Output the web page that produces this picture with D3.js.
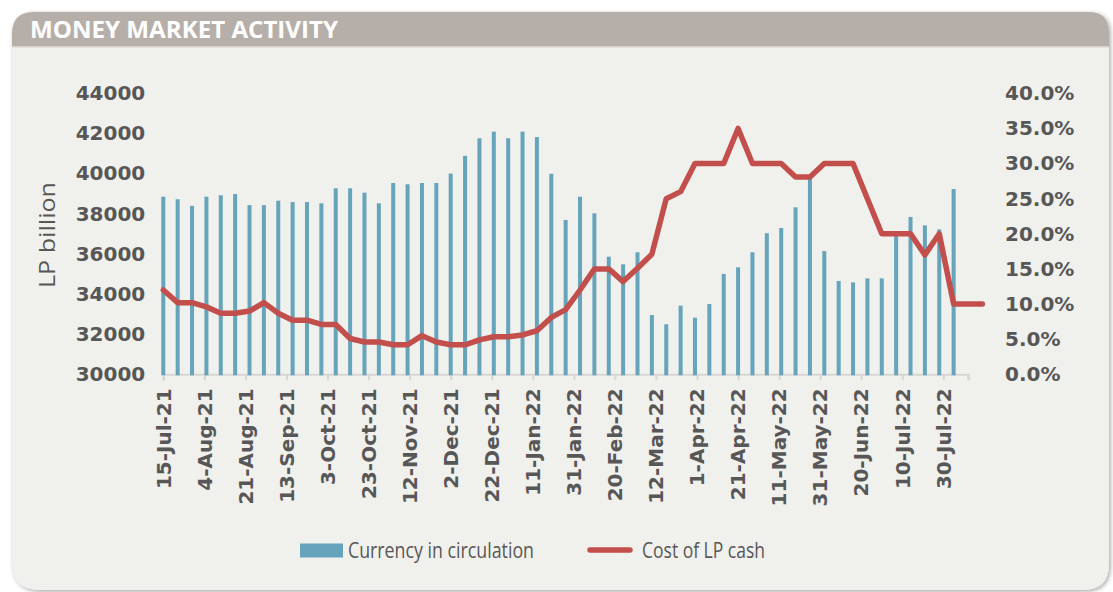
<!DOCTYPE html>
<html>
<head>
<meta charset="utf-8">
<script src="https://cdn.jsdelivr.net/npm/d3@7/dist/d3.min.js"></script>
<style>
  html, body { margin: 0; padding: 0; background: #ffffff; }
  svg { display: block; }
</style>
</head>
<body>
<div id="chart"></div>
<script>
"use strict";

// data
var title = "MONEY MARKET ACTIVITY";
var leftAxisTitle = "LP billion";
var seriesNames = ["Currency in circulation", "Cost of LP cash"];

// one x label every 20 days, data is weekly
var dateLabels = ["15-Jul-21", "4-Aug-21", "21-Aug-21", "13-Sep-21", "3-Oct-21",
  "23-Oct-21", "12-Nov-21", "2-Dec-21", "22-Dec-21", "11-Jan-22", "31-Jan-22",
  "20-Feb-22", "12-Mar-22", "1-Apr-22", "21-Apr-22", "11-May-22", "31-May-22",
  "20-Jun-22", "10-Jul-22", "30-Jul-22"];
var labelStepDays = 20;
var dataStepDays = 7;
var axisEndDays = 392;

var leftTicks = [30000, 32000, 34000, 36000, 38000, 40000, 42000, 44000];
var rightTicks = [0, 0.05, 0.10, 0.15, 0.20, 0.25, 0.30, 0.35, 0.40];

// Currency in circulation, LP billion
var currency = [38850, 38720, 38390, 38850, 38920, 38980, 38430, 38430, 38650, 38580,
  38580, 38520, 39270, 39270, 39050, 38520, 39530, 39470, 39530, 39530,
  40000, 40880, 41760, 42090, 41760, 42090, 41820, 39990, 37690, 38850,
  38020, 35860, 35480, 36080, 32950, 32490, 33420, 32820, 33500, 35000,
  35330, 36080, 37030, 37290, 38320, 39800, 36140, 34650, 34580, 34780,
  34780, 37000, 37840, 37420, 37220, 39230];

// Cost of LP cash, percent
var cost = [12.0, 10.2, 10.2, 9.6, 8.7, 8.7, 9.0, 10.2, 8.7, 7.7,
  7.7, 7.1, 7.1, 5.1, 4.6, 4.6, 4.2, 4.2, 5.5, 4.6,
  4.2, 4.2, 4.9, 5.35, 5.35, 5.6, 6.2, 8.1, 9.2, 12.0,
  15.0, 15.0, 13.2, 15.1, 17.1, 25.0, 26.0, 30.0, 30.0, 30.0,
  35.0, 30.0, 30.0, 30.0, 28.1, 28.1, 30.0, 30.0, 30.0, 25.0,
  20.0, 20.0, 20.0, 17.0, 20.0, 10.0, 10.0, 10.0];

// layout
var W = 1113, H = 592;
var plot = { left: 163.3, right: 968, top: 93.3, bottom: 374.3 };
var barColor = "#66a4bb";
var lineColor = "#c24f4c";
var textColor = "#575757";
var tickFont = "'DejaVu Sans', sans-serif";

var svg = d3.select("#chart")
            .append("svg")
            .attr("width", W)
            .attr("height", H);

var defs = svg.append("defs");
var shadow = defs.append("filter")
                 .attr("id", "shadow")
                 .attr("x", "-5%").attr("y", "-5%")
                 .attr("width", "110%").attr("height", "110%");
shadow.append("feDropShadow")
      .attr("dx", 1.5).attr("dy", 1.5)
      .attr("stdDeviation", 2)
      .attr("flood-color", "#000")
      .attr("flood-opacity", 0.35);

// panel with rounded corners
var px0 = 12, py0 = 12, px1 = 1109, py1 = 590;
var rTL = 22, rTR = 20, rBL = 28, rBR = 26;
var panelPath = "M" + (px0 + rTL) + "," + py0 +
  " L" + (px1 - rTR) + "," + py0 +
  " Q" + px1 + "," + py0 + " " + px1 + "," + (py0 + rTR) +
  " L" + px1 + "," + (py1 - rBR) +
  " Q" + px1 + "," + py1 + " " + (px1 - rBR) + "," + py1 +
  " L" + (px0 + rBL) + "," + py1 +
  " Q" + px0 + "," + py1 + " " + px0 + "," + (py1 - rBL) +
  " L" + px0 + "," + (py0 + rTL) +
  " Q" + px0 + "," + py0 + " " + (px0 + rTL) + "," + py0 + " Z";

defs.append("clipPath").attr("id", "panelClip")
    .append("path").attr("d", panelPath);

svg.append("path")
   .attr("d", panelPath)
   .attr("fill", "#f0f0ec")
   .attr("filter", "url(#shadow)");

var header = svg.append("g").attr("clip-path", "url(#panelClip)");
header.append("rect")
      .attr("x", px0).attr("y", py0)
      .attr("width", px1 - px0).attr("height", 34.5)
      .attr("fill", "#b6afa9");
header.append("rect")
      .attr("x", px0).attr("y", 46.5)
      .attr("width", px1 - px0).attr("height", 1.2)
      .attr("fill", "#dcd8d3");

svg.append("text")
   .attr("x", 30)
   .attr("y", 37.5)
   .attr("fill", "#ffffff")
   .style("font-family", "'Open Sans', sans-serif")
   .style("font-weight", "bold")
   .style("font-size", "23px")
   .attr("textLength", 308)
   .attr("lengthAdjust", "spacingAndGlyphs")
   .text(title);

// scales
var x = d3.scaleLinear()
          .domain([0, axisEndDays])
          .range([plot.left, plot.right]);

var yLeft = d3.scaleLinear()
              .domain([leftTicks[0], leftTicks[leftTicks.length - 1]])
              .range([plot.bottom, plot.top]);

var yRight = d3.scaleLinear()
               .domain([rightTicks[0], rightTicks[rightTicks.length - 1]])
               .range([plot.bottom, plot.top]);

// left axis
var leftAxis = d3.axisLeft(yLeft)
                 .tickValues(leftTicks)
                 .tickFormat(d3.format("d"))
                 .tickSize(0)
                 .tickPadding(18);
var gl = svg.append("g")
            .attr("transform", "translate(" + plot.left + ",0)")
            .call(leftAxis);
gl.select(".domain").remove();
gl.selectAll("text")
  .attr("fill", textColor)
  .style("font-family", tickFont)
  .style("font-weight", "bold")
  .style("font-size", "20px");

// right axis
var rightAxis = d3.axisRight(yRight)
                  .tickValues(rightTicks)
                  .tickFormat(d3.format(".1%"))
                  .tickSize(0)
                  .tickPadding(37);
var gr = svg.append("g")
            .attr("transform", "translate(" + plot.right + ",0)")
            .call(rightAxis);
gr.select(".domain").remove();
gr.selectAll("text")
  .attr("fill", textColor)
  .style("font-family", tickFont)
  .style("font-weight", "bold")
  .style("font-size", "20px");

// x axis
var labelDays = dateLabels.map(function (d, i) { return i * labelStepDays; });
var xAxis = d3.axisBottom(x)
              .tickValues(labelDays.concat([axisEndDays]))
              .tickSize(6)
              .tickFormat("");
var gx = svg.append("g")
            .attr("transform", "translate(0," + plot.bottom + ")")
            .call(xAxis);
gx.select(".domain")
  .attr("stroke", "#d6d6d4")
  .attr("stroke-width", 2);
gx.selectAll(".tick line")
  .attr("stroke", "#d6d6d4")
  .attr("stroke-width", 2);

svg.append("g")
   .selectAll("text")
   .data(dateLabels)
   .enter()
   .append("text")
   .attr("transform", function (d, i) {
     return "translate(" + x(labelDays[i]) + "," + (plot.bottom + 14) + ") rotate(-90)";
   })
   .attr("text-anchor", "end")
   .attr("dy", "0.36em")
   .attr("fill", textColor)
   .style("font-family", tickFont)
   .style("font-weight", "bold")
   .style("font-size", "20px")
   .text(function (d) { return d; });

// left axis title
svg.append("text")
   .attr("transform", "translate(55,235) rotate(-90)")
   .attr("text-anchor", "middle")
   .attr("fill", textColor)
   .style("font-family", "'Open Sans', sans-serif")
   .style("font-size", "22px")
   .attr("textLength", 106)
   .attr("lengthAdjust", "spacingAndGlyphs")
   .text(leftAxisTitle);

// bars
var barWidth = 4;
svg.append("g")
   .selectAll("rect")
   .data(currency)
   .enter()
   .append("rect")
   .attr("x", function (d, i) { return x(i * dataStepDays) - barWidth / 2; })
   .attr("y", function (d) { return yLeft(d); })
   .attr("width", barWidth)
   .attr("height", function (d) { return plot.bottom + 1 - yLeft(d); })
   .attr("fill", barColor);

// line
var line = d3.line()
             .x(function (d, i) { return x(i * dataStepDays); })
             .y(function (d) { return yRight(d / 100); });

svg.append("path")
   .datum(cost)
   .attr("d", line)
   .attr("fill", "none")
   .attr("stroke", lineColor)
   .attr("stroke-width", 5.5)
   .attr("stroke-linejoin", "round")
   .attr("stroke-linecap", "round");

// legend
var legend = svg.append("g");
legend.append("rect")
      .attr("x", 300).attr("y", 543.5)
      .attr("width", 43).attr("height", 14)
      .attr("fill", barColor);
legend.append("text")
      .attr("x", 348).attr("y", 557.5)
      .attr("fill", textColor)
      .style("font-family", "'Open Sans', sans-serif")
      .style("font-size", "22px")
      .attr("textLength", 186)
      .attr("lengthAdjust", "spacingAndGlyphs")
      .text(seriesNames[0]);
legend.append("line")
      .attr("x1", 590).attr("x2", 630)
      .attr("y1", 550).attr("y2", 550)
      .attr("stroke", lineColor)
      .attr("stroke-width", 5.5)
      .attr("stroke-linecap", "round");
legend.append("text")
      .attr("x", 642).attr("y", 557.5)
      .attr("fill", textColor)
      .style("font-family", "'Open Sans', sans-serif")
      .style("font-size", "22px")
      .attr("textLength", 123)
      .attr("lengthAdjust", "spacingAndGlyphs")
      .text(seriesNames[1]);
</script>
</body>
</html>
